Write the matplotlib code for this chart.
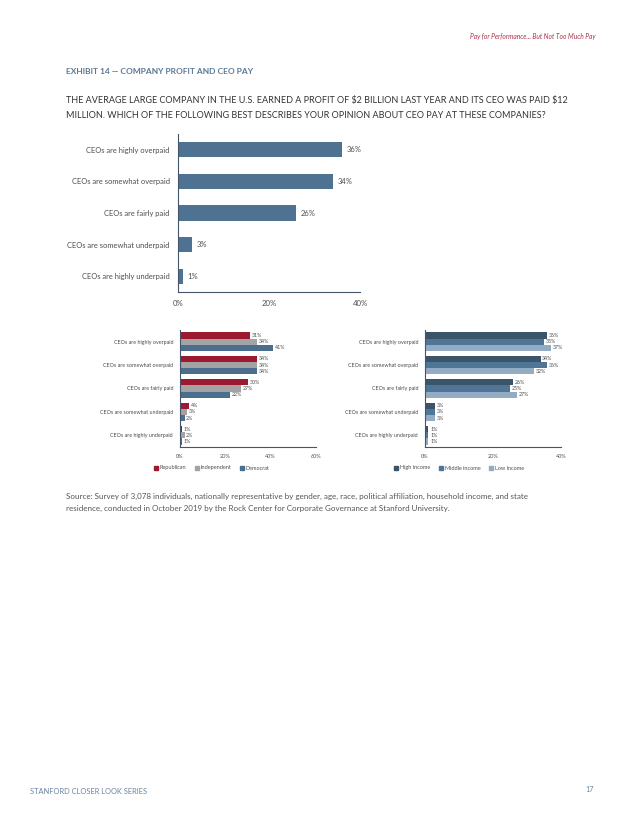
import matplotlib as mpl
mpl.use('Agg')
import matplotlib.pyplot as plt
from matplotlib.patches import Patch
import numpy as np

mpl.rcParams['font.family'] = ['Lato', 'DejaVu Sans']

# -- Data
categories = ["CEOs are highly overpaid", "CEOs are somewhat overpaid",
              "CEOs are fairly paid", "CEOs are somewhat underpaid",
              "CEOs are highly underpaid"]
overall = [36, 34, 26, 3, 1]

party_names = ["Republican", "Independent", "Democrat"]
republican = [31, 34, 30, 4, 1]
independent = [34, 34, 27, 3, 2]
democrat = [41, 34, 22, 2, 1]

income_names = ["High income", "Middle income", "Low income"]
high_income = [36, 34, 26, 3, 1]
middle_income = [35, 36, 25, 3, 1]
low_income = [37, 32, 27, 3, 1]

W, H = 638, 826
fig = plt.figure(figsize=(W/100, H/100), dpi=100)

def px_axes(x0, y0, x1, y1):
    return fig.add_axes([x0/W, 1 - y1/H, (x1-x0)/W, (y1-y0)/H])

label_col = '#4d4d4d'
spine_col = '#44546a'

# -- Header text
fig.text(596/W, 1 - 37/H, "Pay for Performance... But Not Too Much Pay", ha='right',
         va='center', fontsize=4.8, style='italic', color='#b0304a')
fig.text(66/W, 1 - 72/H, "EXHIBIT 14 \u2014 COMPANY PROFIT AND CEO PAY", ha='left',
         va='center', fontsize=6.0, fontweight='bold', color='#5a7894')
fig.text(66/W, 1 - 101/H, r"THE AVERAGE LARGE COMPANY IN THE U.S. EARNED A PROFIT OF \$2 BILLION LAST YEAR AND ITS CEO WAS PAID \$12",
         ha='left', va='center', fontsize=6.45, color='#333333')
fig.text(66/W, 1 - 115/H, "MILLION. WHICH OF THE FOLLOWING BEST DESCRIBES YOUR OPINION ABOUT CEO PAY AT THESE COMPANIES?",
         ha='left', va='center', fontsize=6.45, color='#333333')

# -- Main chart
ax = px_axes(178, 134, 360, 292)
y = np.arange(len(categories))
ax.barh(y, overall, height=0.48, color='#4e7392')
for yi, v in zip(y, overall):
    ax.text(v + 1.0, yi, f"{v}%", va='center', ha='left', fontsize=5.5, color=label_col)
ax.set_yticks(y)
ax.set_yticklabels(categories, fontsize=5.4, color=label_col)
ax.set_ylim(4.5, -0.5)
ax.set_xlim(0, 40)
ax.set_xticks([0, 20, 40])
ax.set_xticklabels(["0%", "20%", "40%"], fontsize=5.6, color=label_col)
ax.tick_params(length=0, pad=6)
for s in ['top', 'right']:
    ax.spines[s].set_visible(False)
for s in ['left', 'bottom']:
    ax.spines[s].set_color(spine_col)
    ax.spines[s].set_linewidth(0.8)

def grouped(ax, series, colors, xmax, ticks):
    h = 0.267
    for i, (vals, c) in enumerate(zip(series, colors)):
        pos = y + (i - 1) * h
        ax.barh(pos, vals, height=h, color=c)
        for p, v in zip(pos, vals):
            ax.text(v + xmax * 0.012, p, f"{v}%", va='center', ha='left',
                    fontsize=3.8, color=label_col)
    ax.set_yticks(y)
    ax.set_yticklabels(categories, fontsize=3.9, color=label_col)
    ax.set_ylim(4.5, -0.5)
    ax.set_xlim(0, xmax)
    ax.set_xticks(ticks)
    ax.set_xticklabels([f"{t}%" for t in ticks], fontsize=4.0, color=label_col)
    ax.tick_params(length=0, pad=5)
    for s in ['top', 'right']:
        ax.spines[s].set_visible(False)
    for s in ['left', 'bottom']:
        ax.spines[s].set_color(spine_col)
        ax.spines[s].set_linewidth(0.8)

party_cols = ['#9c1a30', '#a3a3a3', '#4b6e8e']
income_cols = ['#3b5469', '#4f7597', '#93abc3']

axl = px_axes(180, 330, 316, 447)
grouped(axl, [republican, independent, democrat], party_cols, 60, [0, 20, 40, 60])
axr = px_axes(425, 330, 561, 447)
grouped(axr, [high_income, middle_income, low_income], income_cols, 40, [0, 20, 40])

for names, cols, cx in [(party_names, party_cols, 212), (income_names, income_cols, 459)]:
    handles = [Patch(color=c) for c in cols]
    leg = fig.legend(handles, names, loc='center', bbox_to_anchor=(cx/W, 1 - 468/H),
                     ncol=3, frameon=False, fontsize=4.0, handlelength=0.7,
                     handleheight=0.7, handletextpad=0.3, columnspacing=1.6)
    for t in leg.get_texts():
        t.set_color(label_col)

# -- Source and footer
fig.text(66/W, 1 - 496/H, "Source: Survey of 3,078 individuals, nationally representative by gender, age, race, political affiliation, household income, and state",
         ha='left', va='center', fontsize=5.8, color='#555555')
fig.text(66/W, 1 - 508/H, "residence, conducted in October 2019 by the Rock Center for Corporate Governance at Stanford University.",
         ha='left', va='center', fontsize=5.8, color='#555555')
fig.text(30/W, 1 - 791/H, "STANFORD CLOSER LOOK SERIES", ha='left', va='center',
         fontsize=5.4, color='#6a84a0')
fig.text(594/W, 1 - 790/H, "17", ha='right', va='center', fontsize=5.2, color='#6a84a0')

fig.savefig("out.png", dpi=100)
